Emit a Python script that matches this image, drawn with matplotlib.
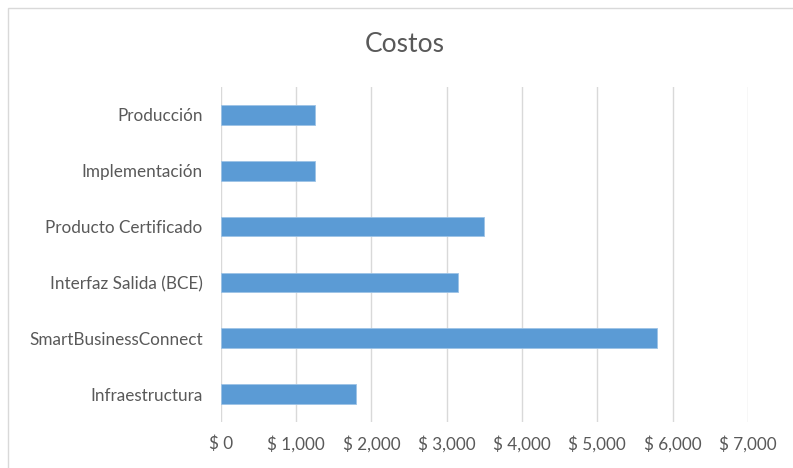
import matplotlib.pyplot as plt
from matplotlib.patches import Rectangle
from matplotlib.ticker import FuncFormatter

# Datos de costos por componente (de abajo hacia arriba)
categorias = ['Infraestructura', 'SmartBusinessConnect', 'Interfaz Salida (BCE)',
              'Producto Certificado', 'Implementación', 'Producción']
costos = [1790, 5790, 3150, 3490, 1250, 1250]
ticks_x = [0, 1000, 2000, 3000, 4000, 5000, 6000, 7000]

plt.rcParams['font.family'] = ['Lato', 'DejaVu Sans']
texto = '#595959'

fig = plt.figure(figsize=(7.93, 4.68), dpi=100)
W, H = 793, 468

# Marco del área del gráfico
fig.patches.append(Rectangle((8 / W, -0.1), 1.2, 1 - 8 / H + 0.1,
                             transform=fig.transFigure, fill=False,
                             edgecolor='#d9d9d9', linewidth=1.0))

ax = fig.add_axes([220.8 / W, 1 - 422 / H, (747.9 - 220.8) / W, (422 - 87) / H])
ax.barh(range(len(categorias)), costos, height=0.35, color='#5b9bd5',
        edgecolor='#9dc3e6', linewidth=0.6, zorder=3)

ax.set_xlim(0, 7000)
ax.set_ylim(-0.5, len(categorias) - 0.5)
ax.set_xticks(ticks_x)
ax.xaxis.set_major_formatter(FuncFormatter(lambda v, p: '$ {:,.0f}'.format(v)))
ax.set_yticks(range(len(categorias)))
ax.set_yticklabels(categorias)

ax.grid(axis='x', color='#d9d9d9', linewidth=1.0, zorder=0)
for s in ax.spines.values():
    s.set_visible(False)
ax.tick_params(axis='both', length=0, labelsize=12.3, colors=texto)
ax.tick_params(axis='x', pad=10)
ax.tick_params(axis='y', pad=13)

fig.text(405 / W, 1 - 45 / H, 'Costos', ha='center', va='center',
         fontsize=19, color=texto)

fig.savefig('out.png', dpi=100)
